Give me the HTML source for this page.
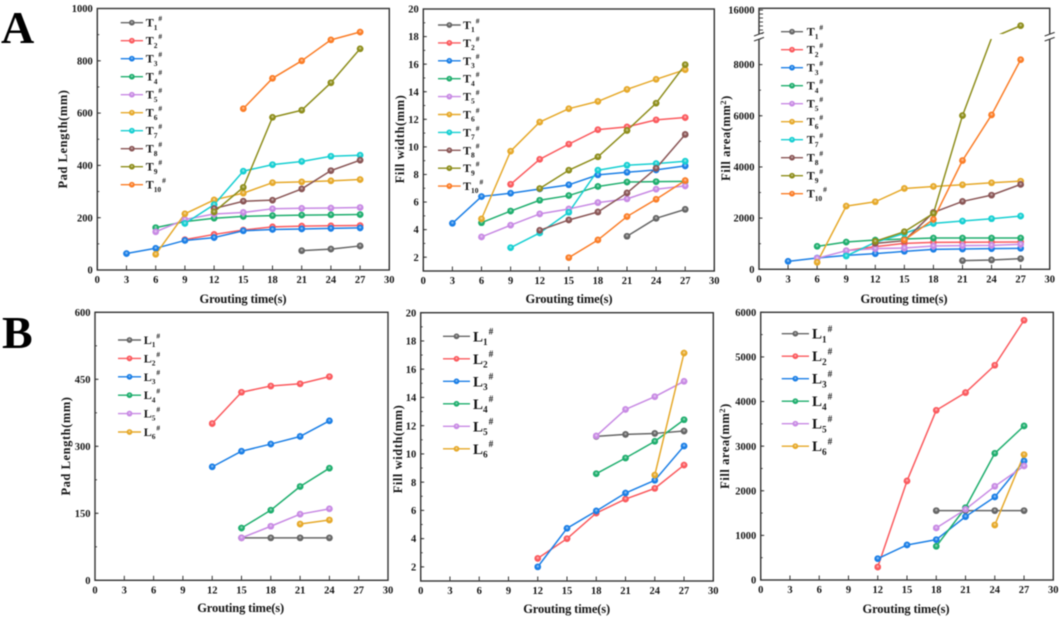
<!DOCTYPE html>
<html lang="en">
<head>
<meta charset="utf-8">
<title>Grouting time charts</title>
<style>
html,body{margin:0;padding:0;background:#fff;}
body{width:1059px;height:619px;overflow:hidden;}
svg{display:block;filter:blur(0.45px);}
text{font-family:"Liberation Serif",serif;font-weight:bold;fill:#161616;}
</style>
</head>
<body>
<svg id="figure" xmlns="http://www.w3.org/2000/svg" width="1059" height="619" viewBox="0 0 1059 619">
  <rect x="0" y="0" width="1059" height="619" fill="#ffffff"/>
  <text x="1" y="43" style="font-size:46px;fill:#000">A</text>
  <text x="2" y="348" style="font-size:46px;fill:#000">B</text>
</svg>
<script>
// ---- shared categories and tick labels ----
const timePoints = [3, 6, 9, 12, 15, 18, 21, 24, 27];
const xTickLabels = [0, 3, 6, 9, 12, 15, 18, 21, 24, 27, 30];
const tNames = ['T1', 'T2', 'T3', 'T4', 'T5', 'T6', 'T7', 'T8', 'T9', 'T10'];
const lNames = ['L1', 'L2', 'L3', 'L4', 'L5', 'L6'];

// ---- A: pad length (mm) ----
const padLengthTicksT = [0, 200, 400, 600, 800, 1000];
const padLengthT1 = [null, null, null, null, null, null, 74, 80, 92];
const padLengthT2 = [null, null, 116, 136, 153, 165, 168, 169, 170];
const padLengthT3 = [63, 83, 113, 124, 150, 155, 157, 159, 161];
const padLengthT4 = [null, 162, 185, 198, 205, 208, 210, 211, 212];
const padLengthT5 = [null, 146, 193, 214, 220, 234, 236, 237, 239];
const padLengthT6 = [null, 60, 215, 268, 294, 334, 337, 341, 346];
const padLengthT7 = [null, null, 178, 250, 378, 403, 415, 435, 439];
const padLengthT8 = [null, null, null, 235, 263, 267, 310, 380, 420];
const padLengthT9 = [null, null, null, 222, 316, 584, 611, 716, 846];
const padLengthT10 = [null, null, null, null, 617, 733, 800, 880, 910];

// ---- A: fill width (mm) ----
const fillWidthTicksT = [2, 4, 6, 8, 10, 12, 14, 16, 18, 20];
const fillWidthT1 = [null, null, null, null, null, null, 3.52, 4.82, 5.47];
const fillWidthT2 = [null, null, 7.29, 9.1, 10.2, 11.25, 11.45, 11.96, 12.13];
const fillWidthT3 = [4.46, 6.4, 6.64, 6.95, 7.25, 7.97, 8.16, 8.33, 8.62];
const fillWidthT4 = [null, 4.5, 5.35, 6.13, 6.47, 7.13, 7.45, 7.48, 7.5];
const fillWidthT5 = [null, 3.47, 4.32, 5.14, 5.5, 5.96, 6.23, 6.93, 7.17];
const fillWidthT6 = [null, 4.78, 9.69, 11.8, 12.77, 13.3, 14.17, 14.9, 15.6];
const fillWidthT7 = [null, null, 2.69, 3.76, 5.26, 8.31, 8.67, 8.79, 8.96];
const fillWidthT8 = [null, null, null, 3.95, 4.7, 5.28, 6.66, 8.45, 10.9];
const fillWidthT9 = [null, null, null, 6.98, 8.31, 9.28, 11.19, 13.17, 15.96];
const fillWidthT10 = [null, null, null, null, 1.97, 3.25, 4.95, 6.2, 7.56];

// ---- A: fill area (mm2) ----
const fillAreaTicksT = [0, 2000, 4000, 6000, 8000, 16000];
const fillAreaT1 = [null, null, null, null, null, null, 338, 364, 416];
const fillAreaT2 = [null, null, 728, 884, 1014, 1053, 1055, 1060, 1066];
const fillAreaT3 = [312, 442, 546, 611, 702, 780, 793, 806, 819];
const fillAreaT4 = [null, 897, 1066, 1144, 1183, 1222, 1222, 1222, 1222];
const fillAreaT5 = [null, 429, 728, 806, 832, 910, 923, 936, 975];
const fillAreaT6 = [null, 273, 2470, 2640, 3160, 3238, 3303, 3381, 3446];
const fillAreaT7 = [null, null, 520, 1053, 1404, 1794, 1885, 1976, 2080];
const fillAreaT8 = [null, null, null, 1014, 1118, 2223, 2652, 2899, 3316];
const fillAreaT9 = [null, null, null, 1092, 1469, 2184, 6007, 9200, 12080];
const fillAreaT10 = [null, null, null, null, 1144, 1950, 4252, 6033, 8190];

// ---- B: pad length (mm) ----
const padLengthTicksL = [0, 150, 300, 450, 600];
const padLengthL1 = [null, null, null, null, 95, 95, 95, 95, null];
const padLengthL2 = [null, null, null, 351, 421, 435, 440, 456, null];
const padLengthL3 = [null, null, null, 254, 289, 305, 322, 357, null];
const padLengthL4 = [null, null, null, null, 117, 157, 210, 251, null];
const padLengthL5 = [null, null, null, null, 95, 121, 148, 160, null];
const padLengthL6 = [null, null, null, null, null, null, 126, 135, null];

// ---- B: fill width (mm) ----
const fillWidthTicksL = [2, 4, 6, 8, 10, 12, 14, 16, 18, 20];
const fillWidthL1 = [null, null, null, null, null, 11.24, 11.38, 11.45, 11.62];
const fillWidthL2 = [null, null, null, 2.6, 4.0, 5.81, 6.8, 7.56, 9.21];
const fillWidthL3 = [null, null, null, 2.0, 4.73, 5.96, 7.23, 8.13, 10.56];
const fillWidthL4 = [null, null, null, null, null, 8.6, 9.71, 10.89, 12.42];
const fillWidthL5 = [null, null, null, null, null, 11.27, 13.15, 14.05, 15.14];
const fillWidthL6 = [null, null, null, null, null, null, null, 8.5, 17.14];

// ---- B: fill area (mm2) ----
const fillAreaTicksL = [0, 1000, 2000, 3000, 4000, 5000, 6000];
const fillAreaL1 = [null, null, null, null, null, 1555, 1555, 1555, 1555];
const fillAreaL2 = [null, null, null, 291, 2220, 3804, 4200, 4813, 5822];
const fillAreaL3 = [null, null, null, 478, 785, 904, 1420, 1861, 2668];
const fillAreaL4 = [null, null, null, null, null, 755, 1622, 2840, 3453];
const fillAreaL5 = [null, null, null, null, null, 1166, 1584, 2100, 2556];
const fillAreaL6 = [null, null, null, null, null, null, null, 1233, 2810];

// ---- styling (not data) ----
const tColors = ['#666666', '#fb5a5e', '#1b7fe6', '#1fae6e', '#c88ae4', '#e6a92a', '#16cfd2', '#8a5656', '#8e8e1c', '#fb7d27'];

const NS = 'http://www.w3.org/2000/svg';
const root = document.getElementById('figure');

function make(tag, attrs, parent) {
  const el = document.createElementNS(NS, tag);
  for (const k in attrs) el.setAttribute(k, attrs[k]);
  (parent || root).appendChild(el);
  return el;
}

// sphere-like marker gradients
const defs = make('defs', {});
tColors.forEach(function (c, i) {
  const g = make('radialGradient', { id: 'ball' + i, cx: '0.5', cy: '0.42', r: '0.55' }, defs);
  make('stop', { offset: '0', 'stop-color': '#ffffff', 'stop-opacity': '0.55' }, g);
  make('stop', { offset: '0.45', 'stop-color': c }, g);
  make('stop', { offset: '1', 'stop-color': c }, g);
});

function drawMarker(parent, x, y, colorIndex, r) {
  const base = make('circle', { cx: x, cy: y, r: r, fill: tColors[colorIndex] }, parent);
  
  
  const shine = make('circle', { cx: x, cy: y, r: r, fill: 'url(#ball' + colorIndex + ')' }, parent);
  
  
}

function drawLegendLabel(parent, x, y, name, fs) {
  const t = make('text', { x: x, y: y + fs * 0.33, style: 'font-size:' + fs + 'px' }, parent);
  
  
  const main = make('tspan', {}, t);
  main.textContent = name.charAt(0);
  const sub = make('tspan', { dy: fs * 0.26, style: 'font-size:' + (fs * 0.62) + 'px' }, t);
  sub.textContent = name.slice(1);
  const sup = make('tspan', { dy: -fs * 0.72, dx: 1, style: 'font-size:' + (fs * 0.62) + 'px' }, t);
  sup.textContent = '#';
}

function drawPanel(p) {
  const g = make('g', {});
  
  

  const xScale = function (v) { return p.l + (v / 30) * (p.r - p.l); };
  const yLin = function (v) { return p.b - ((v - p.yMin) / (p.yMax - p.yMin)) * (p.b - p.t); };
  const yScale = p.brk ? function (v) {
    if (v <= p.brk.lowV) return p.b - (v / p.brk.lowV) * (p.b - p.brk.lowY);
    if (v <= p.brk.highV) return p.brk.lowY - ((v - p.brk.lowV) / (p.brk.highV - p.brk.lowV)) * (p.brk.lowY - p.brk.highY);
    return p.brk.highY - ((v - p.brk.highV) / (p.yMax - p.brk.highV)) * (p.brk.highY - p.brk.topY);
  } : yLin;

  // frame
  const frame = make('rect', { x: p.l, y: p.t, width: p.r - p.l, height: p.b - p.t, fill: 'none', stroke: '#333333', 'stroke-width': 1.4 }, g);
  
  

  // x ticks
  xTickLabels.forEach(function (v) {
    const x = xScale(v);
    const tick = make('line', { x1: x, x2: x, y1: p.b, y2: p.b - 4.5, stroke: '#333333', 'stroke-width': 1 }, g);
    
    
    const lab = make('text', { x: x, y: p.b + 13, 'text-anchor': 'middle', style: 'font-size:10.5px' }, g);
    
    
    lab.textContent = v;
  });

  // y ticks
  p.yTicks.forEach(function (v) {
    const y = yScale(v);
    const tick = make('line', { x1: p.l, x2: p.l + 3.5, y1: y, y2: y, stroke: '#333333', 'stroke-width': 1 }, g);
    
    
    const lab = make('text', { x: p.l - 4.5, y: y + 3.6, 'text-anchor': 'end', style: 'font-size:10.5px' }, g);
    
    
    lab.textContent = v;
  });
  // minor y ticks
  const minorTop = p.brk ? p.brk.lowV : p.yMax;
  for (let v = p.yMin; v <= minorTop + 1e-6; v += p.minor) {
    const y = yScale(v);
    const tick = make('line', { x1: p.l, x2: p.l + 2, y1: y, y2: y, stroke: '#333333', 'stroke-width': 0.9 }, g);
    
    
  }
  if (p.brk) {
    for (let v = p.brk.highV; v <= p.yMax; v += 1000) {
      const y = yScale(v);
      const tick = make('line', { x1: p.l, x2: p.l + 4, y1: y, y2: y, stroke: '#333333', 'stroke-width': 0.9 }, g);
      
      
    }
  }

  // series
  p.series.forEach(function (values, si) {
    let d = '';
    let started = false;
    values.forEach(function (v, i) {
      if (v === null) return;
      d += (started ? 'L' : 'M') + xScale(timePoints[i]).toFixed(2) + ' ' + yScale(v).toFixed(2);
      started = true;
    });
    const line = make('path', { d: d, fill: 'none', stroke: tColors[si], 'stroke-width': 1.5, 'stroke-linejoin': 'round' }, g);
    
    
  });

  // axis break mask sits over the lines
  if (p.brk) {
    const mask = make('rect', { x: p.l - 1, y: p.brk.highY, width: p.r - p.l + 2, height: p.brk.lowY - p.brk.highY, fill: '#ffffff' }, g);
    
    
    [p.l, p.r].forEach(function (ax) {
      [p.brk.highY + 0.3, p.brk.lowY + 0.3].forEach(function (y) {
        const s = make('line', { x1: ax - 5, y1: y + 1.7, x2: ax + 5, y2: y - 1.9, stroke: '#333333', 'stroke-width': 1.1 }, g);
        
        
      });
    });
  }

  p.series.forEach(function (values, si) {
    values.forEach(function (v, i) {
      if (v === null) return;
      if (p.brk && v > p.brk.lowV && v < p.brk.highV) return; // hidden by the axis break
      drawMarker(g, xScale(timePoints[i]), yScale(v), si, 3.3);
    });
  });

  // axis titles
  const xt = make('text', { x: p.xTitleX, y: p.xTitleY, 'text-anchor': 'middle', textLength: 87, lengthAdjust: 'spacing', style: 'font-size:12.5px' }, g);
  
  
  xt.textContent = 'Grouting time(s)';

  const yt = make('text', { x: 0, y: 0, 'text-anchor': 'middle', transform: 'translate(' + p.yTitleX + ' ' + p.yTitleY + ') rotate(-90)', style: 'font-size:12.5px;letter-spacing:0.55px' }, g);
  
  
  yt.textContent = p.yTitle;
  if (p.yTitleSup) {
    const sup = make('tspan', { dy: -4, style: 'font-size:8.5px' }, yt);
    sup.textContent = '2';
    const close = make('tspan', { dy: 4 }, yt);
    close.textContent = ')';
  }

  // legend
  const lg = p.legend;
  p.names.forEach(function (name, i) {
    const entry = make('g', {}, g);
    
    
    const y = lg.y + i * lg.dy;
    const ln = make('line', { x1: lg.x1, x2: lg.x2, y1: y, y2: y, stroke: tColors[i], 'stroke-width': 1.4 }, entry);
    
    
    drawMarker(entry, (lg.x1 + lg.x2) / 2, y, i, 2.8);
    drawLegendLabel(entry, lg.tx, y, name, lg.fs);
  });
}

const panels = [
  { id: 'pad-length-t', l: 97.3, r: 389.3, t: 8.5, b: 270, yMin: 0, yMax: 1000, minor: 100, yTicks: padLengthTicksT,
    names: tNames, series: [padLengthT1, padLengthT2, padLengthT3, padLengthT4, padLengthT5, padLengthT6, padLengthT7, padLengthT8, padLengthT9, padLengthT10],
    yTitle: 'Pad Length(mm)', yTitleX: 67, yTitleY: 139, xTitleX: 243, xTitleY: 303,
    legend: { x1: 120.7, x2: 143, y: 22.7, dy: 18, tx: 145.7, fs: 12 } },
  { id: 'fill-width-t', l: 423.3, r: 714.3, t: 9, b: 271, yMin: 1, yMax: 20, minor: 1, yTicks: fillWidthTicksT,
    names: tNames, series: [fillWidthT1, fillWidthT2, fillWidthT3, fillWidthT4, fillWidthT5, fillWidthT6, fillWidthT7, fillWidthT8, fillWidthT9, fillWidthT10],
    yTitle: 'Fill width(mm)', yTitleX: 404, yTitleY: 139, xTitleX: 569, xTitleY: 303,
    legend: { x1: 438, x2: 460.7, y: 25, dy: 17.9, tx: 463, fs: 12 } },
  { id: 'fill-area-t', l: 759, r: 1049.7, t: 8.3, b: 269.3, yMin: 0, yMax: 16000, minor: 1000, yTicks: fillAreaTicksT,
    brk: { lowV: 9000, lowY: 39, highV: 10000, highY: 34, topY: 10 },
    names: tNames, series: [fillAreaT1, fillAreaT2, fillAreaT3, fillAreaT4, fillAreaT5, fillAreaT6, fillAreaT7, fillAreaT8, fillAreaT9, fillAreaT10],
    yTitle: 'Fill area(mm', yTitleSup: true, yTitleX: 730, yTitleY: 138, xTitleX: 904, xTitleY: 303,
    legend: { x1: 781, x2: 803, y: 31.7, dy: 18, tx: 806.7, fs: 12 } },
  { id: 'pad-length-l', l: 95, r: 388, t: 312.3, b: 580.3, yMin: 0, yMax: 600, minor: 75, yTicks: padLengthTicksL,
    names: lNames, series: [padLengthL1, padLengthL2, padLengthL3, padLengthL4, padLengthL5, padLengthL6],
    yTitle: 'Pad Length(mm)', yTitleX: 70, yTitleY: 446, xTitleX: 240.7, xTitleY: 612,
    legend: { x1: 118, x2: 141, y: 340, dy: 18.4, tx: 143.7, fs: 12 } },
  { id: 'fill-width-l', l: 420.7, r: 713.3, t: 312.7, b: 581, yMin: 1, yMax: 20, minor: 1, yTicks: fillWidthTicksL,
    names: lNames, series: [fillWidthL1, fillWidthL2, fillWidthL3, fillWidthL4, fillWidthL5, fillWidthL6],
    yTitle: 'Fill width(mm)', yTitleX: 402, yTitleY: 449, xTitleX: 566.7, xTitleY: 613,
    legend: { x1: 443, x2: 470, y: 336.3, dy: 22.5, tx: 473, fs: 15 } },
  { id: 'fill-area-l', l: 760.7, r: 1053.3, t: 312.3, b: 580, yMin: 0, yMax: 6000, minor: 500, yTicks: fillAreaTicksL,
    names: lNames, series: [fillAreaL1, fillAreaL2, fillAreaL3, fillAreaL4, fillAreaL5, fillAreaL6],
    yTitle: 'Fill area(mm', yTitleSup: true, yTitleX: 729, yTitleY: 446, xTitleX: 906, xTitleY: 613,
    legend: { x1: 781.7, x2: 809, y: 333.7, dy: 22.5, tx: 812, fs: 15 } }
];

panels.forEach(drawPanel);
</script>
</body>
</html>
